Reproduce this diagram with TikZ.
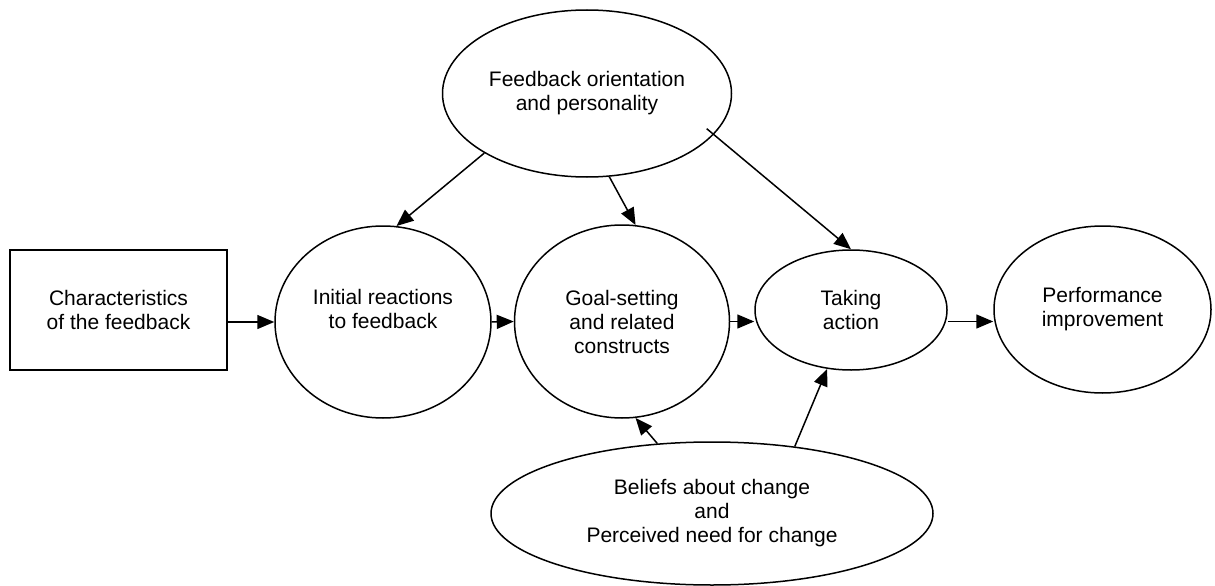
\documentclass[tikz,border=0pt]{standalone}
\usepackage{fontspec}
\setmainfont{Liberation Sans}
\usetikzlibrary{arrows.meta,positioning,shapes.geometric}

\tikzset{
  oval/.style={draw, ellipse, line width=1.5pt, inner sep=0pt, align=center},
  flow/.style={-{Triangle[length=17pt,width=14pt]}, line width=1.5pt},
}

\begin{document}
\begin{tikzpicture}[x=1pt, y=-1pt, font=\fontsize{21}{24}\selectfont]
  \useasboundingbox (0,0) rectangle (1215,586);

  % Feedback box
  \node[draw, rectangle, line width=1.5pt, minimum width=217pt, minimum height=120pt, align=center]
    (feedback) at (118.5, 310) {Characteristics\\of the feedback};

  % Orientation on top
  \node[oval, minimum width=289pt, minimum height=167pt]
    (orient) at (587, 93.5) {Feedback orientation\\and personality};

  % Main row of ovals
  \node[oval, minimum width=216pt, minimum height=192pt]
    (initial) at (383, 322) {};
  \node[align=center] (initialtext) at ([yshift=13.5pt]initial.center)
    {Initial reactions\\to feedback};
  \node[oval, minimum width=215pt, minimum height=193pt]
    (goal) at (622, 321.5) {Goal-setting\\and related\\constructs};
  \node[oval, minimum width=192pt, minimum height=120pt]
    (action) at (851, 310) {Taking\\action};
  \node[oval, minimum width=217pt, minimum height=167pt]
    (perf) at (1102.5, 309.5) {Performance\\improvement};

  % Beliefs below
  \node[oval, minimum width=442pt, minimum height=143pt]
    (beliefs) at (712, 513.5) {Beliefs about change\\and\\Perceived need for change};

  % Arrows along the row
  \draw[flow] (feedback.east |- initial.west) -- (initial.west);
  \draw[flow] (initial.east) -- (goal.west);
  \draw[flow] (goal.east) -- (goal.east -| action.west);
  \draw[flow] (action.east |- goal.east) -- (perf.west |- goal.east);

  % Arrows from the top
  \draw[flow] (orient.south west) -- (initial.82);
  \draw[flow] (orient.-75) -- (goal.82);
  \draw[flow] ([xshift=-7pt,yshift=6pt]orient.-18) -- (action.north);

  % Arrows from below
  \draw[flow] (beliefs.128) -- (goal.-82);
  \draw[flow] (beliefs.39) -- (action.-112);
\end{tikzpicture}
\end{document}
